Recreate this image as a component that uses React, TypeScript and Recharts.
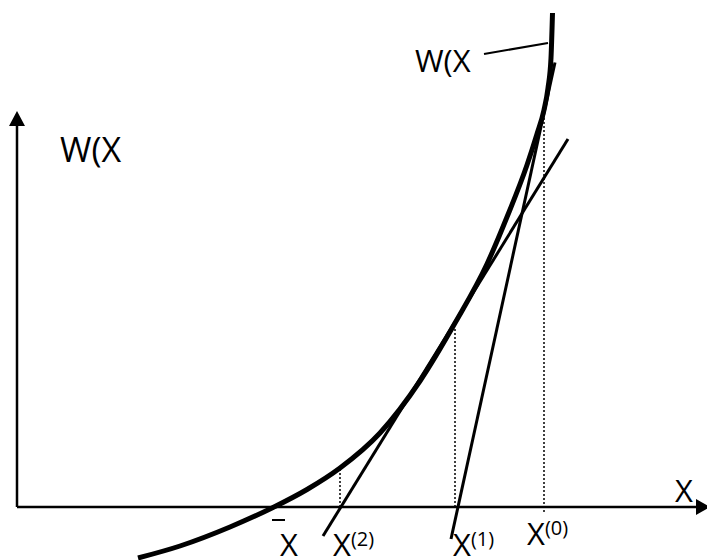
import { ComposedChart, Line, Scatter, XAxis, YAxis } from 'recharts'

// math units: 1 unit ~ 50px, origin at the axes crossing
const curve = [
  { x: 2.42, y: -1.02 },
  { x: 3.26, y: -0.78 },
  { x: 4.26, y: -0.4 },
  { x: 5.12, y: -0.01 },
  { x: 5.8, y: 0.35 },
  { x: 6.46, y: 0.78 },
  { x: 7.26, y: 1.48 },
  { x: 8.06, y: 2.52 },
  { x: 8.76, y: 3.68 },
  { x: 9.4, y: 4.86 },
  { x: 9.8, y: 5.8 },
  { x: 10.2, y: 6.84 },
  { x: 10.4, y: 7.46 },
  { x: 10.54, y: 7.94 },
  { x: 10.62, y: 8.38 },
  { x: 10.68, y: 8.98 },
  { x: 10.71, y: 9.88 },
]

const tangent0 = [
  { x: 8.68, y: -0.64 },
  { x: 10.76, y: 8.89 },
]
const tangent1 = [
  { x: 6.12, y: -0.58 },
  { x: 11.02, y: 7.36 },
]
const leader = [
  { x: 9.34, y: 9.06 },
  { x: 10.62, y: 9.28 },
]
const drop0 = [
  { x: 10.54, y: -0.1 },
  { x: 10.54, y: 7.94 },
]
const drop1 = [
  { x: 8.76, y: 0 },
  { x: 8.76, y: 3.6 },
]
const drop2 = [
  { x: 6.46, y: 0 },
  { x: 6.46, y: 0.78 },
]
const xAxisLine = [
  { x: 0, y: 0 },
  { x: 13.7, y: 0 },
]
const yAxisLine = [
  { x: 0, y: 0 },
  { x: 0, y: 7.7 },
]
const xArrow = [{ x: 13.86, y: 0 }]
const yArrow = [{ x: 0, y: 7.92 }]

const labels = [
  { x: 7.96, y: 8.7, text: 'W(X', sup: '', bar: false, big: false },
  { x: 0.86, y: 6.9, text: 'W(X', sup: '', bar: false, big: true },
  { x: 13.16, y: 0.1, text: 'X', sup: '', bar: false, big: false },
  { x: 5.26, y: -0.98, text: 'X', sup: '', bar: true, big: false },
  { x: 6.32, y: -0.98, text: 'X', sup: '(2)', bar: false, big: false },
  { x: 8.72, y: -0.98, text: 'X', sup: '(1)', bar: false, big: false },
  { x: 10.2, y: -0.76, text: 'X', sup: '(0)', bar: false, big: false },
]

const font = '"Open Sans", "Noto Sans", sans-serif'

function ArrowRight(props: any) {
  const { cx, cy } = props
  return <path d={`M${cx},${cy} L${cx - 14},${cy - 8} L${cx - 14},${cy + 8} Z`} fill='#000' />
}

function ArrowUp(props: any) {
  const { cx, cy } = props
  return <path d={`M${cx},${cy} L${cx - 8},${cy + 15} L${cx + 8},${cy + 15} Z`} fill='#000' />
}

function TextMark(props: any) {
  const { cx, cy, payload } = props
  const size = payload.big ? 34 : 31
  return (
    <g>
      <text x={cx} y={cy} fontFamily={font} fontSize={size} fill='#000'>
        {payload.text}
        {payload.sup && (
          <tspan fontSize={20} dy={-10}>
            {payload.sup}
          </tspan>
        )}
      </text>
      {payload.bar && <line x1={cx - 8} y1={cy - 36} x2={cx + 5} y2={cy - 36} stroke='#000' strokeWidth={2} />}
    </g>
  )
}

export default function App() {
  const lineProps = { dataKey: 'y', dot: false, activeDot: false, isAnimationActive: false, stroke: '#000' } as const
  return (
    <div style={{ position: 'absolute', left: 0, top: 0, background: '#fff' }}>
      <ComposedChart width={707} height={560} margin={{ top: 0, right: 0, bottom: 0, left: 0 }}>
        <XAxis dataKey='x' type='number' domain={[-0.34, 13.8]} allowDataOverflow hide />
        <YAxis type='number' domain={[-1.06, 10.14]} allowDataOverflow hide />
        <Line {...lineProps} data={xAxisLine} type='linear' strokeWidth={2.5} />
        <Line {...lineProps} data={yAxisLine} type='linear' strokeWidth={2.5} />
        <Line {...lineProps} data={drop0} type='linear' strokeWidth={1.5} strokeDasharray='2 2' />
        <Line {...lineProps} data={drop1} type='linear' strokeWidth={1.5} strokeDasharray='2 2' />
        <Line {...lineProps} data={drop2} type='linear' strokeWidth={1.5} strokeDasharray='2 2' />
        <Line {...lineProps} data={tangent0} type='linear' strokeWidth={3} />
        <Line {...lineProps} data={tangent1} type='linear' strokeWidth={3} />
        <Line {...lineProps} data={leader} type='linear' strokeWidth={2} />
        <Line {...lineProps} data={curve} type='monotone' strokeWidth={5} />
        <Scatter data={xArrow} dataKey='y' shape={ArrowRight} isAnimationActive={false} />
        <Scatter data={yArrow} dataKey='y' shape={ArrowUp} isAnimationActive={false} />
        <Scatter data={labels} dataKey='y' shape={TextMark} isAnimationActive={false} />
      </ComposedChart>
    </div>
  )
}
